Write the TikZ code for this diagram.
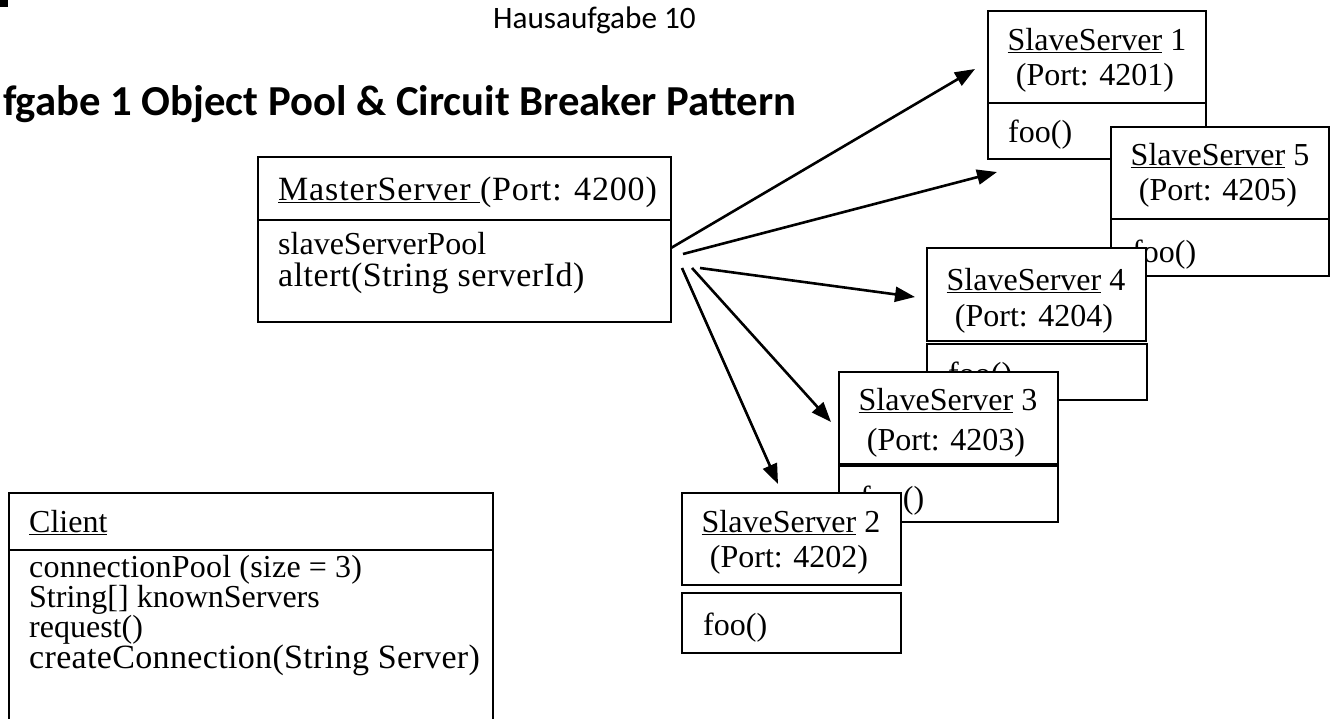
\documentclass[tikz,border=0pt]{standalone}
\usepackage{fontspec}
\setmainfont{Liberation Serif}
\newfontfamily\calibrifont{Carlito}
\usetikzlibrary{arrows.meta}
\newcommand\trackme[2]{{\addfontfeature{LetterSpace=#1}#2}}
\begin{document}
\begin{tikzpicture}[x=1pt,y=-1pt,
  box/.style={draw=black, line width=1.2pt, fill=white, inner sep=0pt, outer sep=0pt, anchor=north west},
  txt/.style={inner sep=0pt, font=\fontsize{32}{36}\selectfont},
  bigtxt/.style={inner sep=0pt, anchor=base west, font=\fontsize{34}{38}\selectfont},
  lbl/.style={txt, anchor=base west},
  ctr/.style={txt, anchor=base},
  sep/.style={line width=1.2pt},
  arr/.style={line width=2.6pt, -{Triangle[length=20pt,width=15pt]}},
]
\clip (0,0) rectangle (1336,718);
\useasboundingbox (0,0) rectangle (1336,718);
\fill[white] (0,0) rectangle (1336,718);

% corner mark
\fill[black] (0,0) rectangle (8,7);

% headings
\node[inner sep=0pt, anchor=base west, font=\calibrifont\fontsize{31.2}{36}\selectfont] (hdr) at (493,28) {Hausaufgabe 10};
\node[inner sep=0pt, anchor=base west, font=\calibrifont\bfseries\fontsize{42.7}{48}\selectfont] (ttl) at (3,115) {fgabe 1 Object Pool \& Circuit Breaker Pattern};

% MasterServer
\node[box, minimum width=413pt, minimum height=165pt] (m) at (258,157) {};
\draw[sep] (m.west |- 0,220) -- (m.east |- 0,220);
\node[bigtxt] (mt) at (278,200) {\trackme{2.5}{\underline{MasterServer\ }(Port: 4200)}};
\node[lbl] (m1) at (278,254) {slaveServerPool};
\node[bigtxt] (m2) at (278,286) {\trackme{1.5}{altert(String serverId)}};

% Client
\node[box, minimum width=484pt, minimum height=260pt] (c) at (9,493) {};
\draw[line width=2.6pt] (c.west |- 0,550) -- (c.east |- 0,550);
\node[lbl] (ct) at (29,532) {\underline{Client}};
\node[lbl] (c1) at (29,577) {\trackme{0.7}{connectionPool (size = 3)}};
\node[lbl] (c2) at (29,607) {String[] knownServers};
\node[lbl] (c3) at (29,637) {request()};
\node[bigtxt] (c4) at (29,668) {\trackme{1.0}{createConnection(String Server)}};

% SlaveServer 1
\node[box, minimum width=218pt, minimum height=148pt] (s1) at (988,11) {};
\draw[sep] (s1.west |- 0,103) -- (s1.east |- 0,103);
\node[ctr] (s1a) at (1097,50) {\underline{SlaveServer} 1};
\node[ctr] (s1b) at (1095,85) {(Port: 4201)};
\node[lbl] (s1c) at (1008,142) {foo()};

% SlaveServer 5
\node[box, minimum width=218pt, minimum height=149pt] (s5) at (1111,127) {};
\draw[sep] (s5.west |- 0,219) -- (s5.east |- 0,219);
\node[ctr] (s5a) at (1220,165) {\underline{SlaveServer} 5};
\node[ctr] (s5b) at (1218,200) {(Port: 4205)};
\node[lbl] (s5c) at (1132,262) {foo()};

% SlaveServer 4
\node[box, minimum width=219pt, minimum height=93pt] (s4) at (927,248) {};
\node[box, minimum width=220pt, minimum height=56pt] (s4m) at (927,344) {};
\node[ctr] (s4a) at (1036,290) {\underline{SlaveServer} 4};
\node[ctr] (s4b) at (1034,326) {(Port: 4204)};
\node[lbl] (s4c) at (948,384) {foo()};

% SlaveServer 3
\node[box, minimum width=219pt, minimum height=92pt] (s3) at (839,372) {};
\node[box, minimum width=219pt, minimum height=56pt] (s3m) at (839,466) {};
\node[ctr] (s3a) at (948,410) {\underline{SlaveServer} 3};
\node[ctr] (s3b) at (946,450) {(Port: 4203)};
\node[lbl] (s3c) at (860,508) {foo()};

% SlaveServer 2
\node[box, minimum width=219pt, minimum height=92pt] (s2) at (682,493) {};
\node[box, minimum width=219pt, minimum height=60pt] (s2m) at (682,593) {};
\node[ctr] (s2a) at (791,532) {\underline{SlaveServer} 2};
\node[ctr] (s2b) at (789,567) {(Port: 4202)};
\node[lbl] (s2c) at (703,635) {foo()};

% arrows
\coordinate (o1) at (671,248);
\coordinate (o2) at (683,254);
\coordinate (o3) at (700,268);
\coordinate (o4) at (692,268);
\coordinate (o5) at (682,268);
\coordinate (t1) at (975,69);
\coordinate (t2) at (997,172);
\coordinate (t3) at (915,297);
\coordinate (t4) at (831,422);
\coordinate (t5) at (778,484);
\draw[arr] (o1) -- (t1);
\draw[arr] (o2) -- (t2);
\draw[arr] (o3) -- (t3);
\draw[arr] (o4) -- (t4);
\draw[arr] (o5) -- (t5);
\end{tikzpicture}
\end{document}
